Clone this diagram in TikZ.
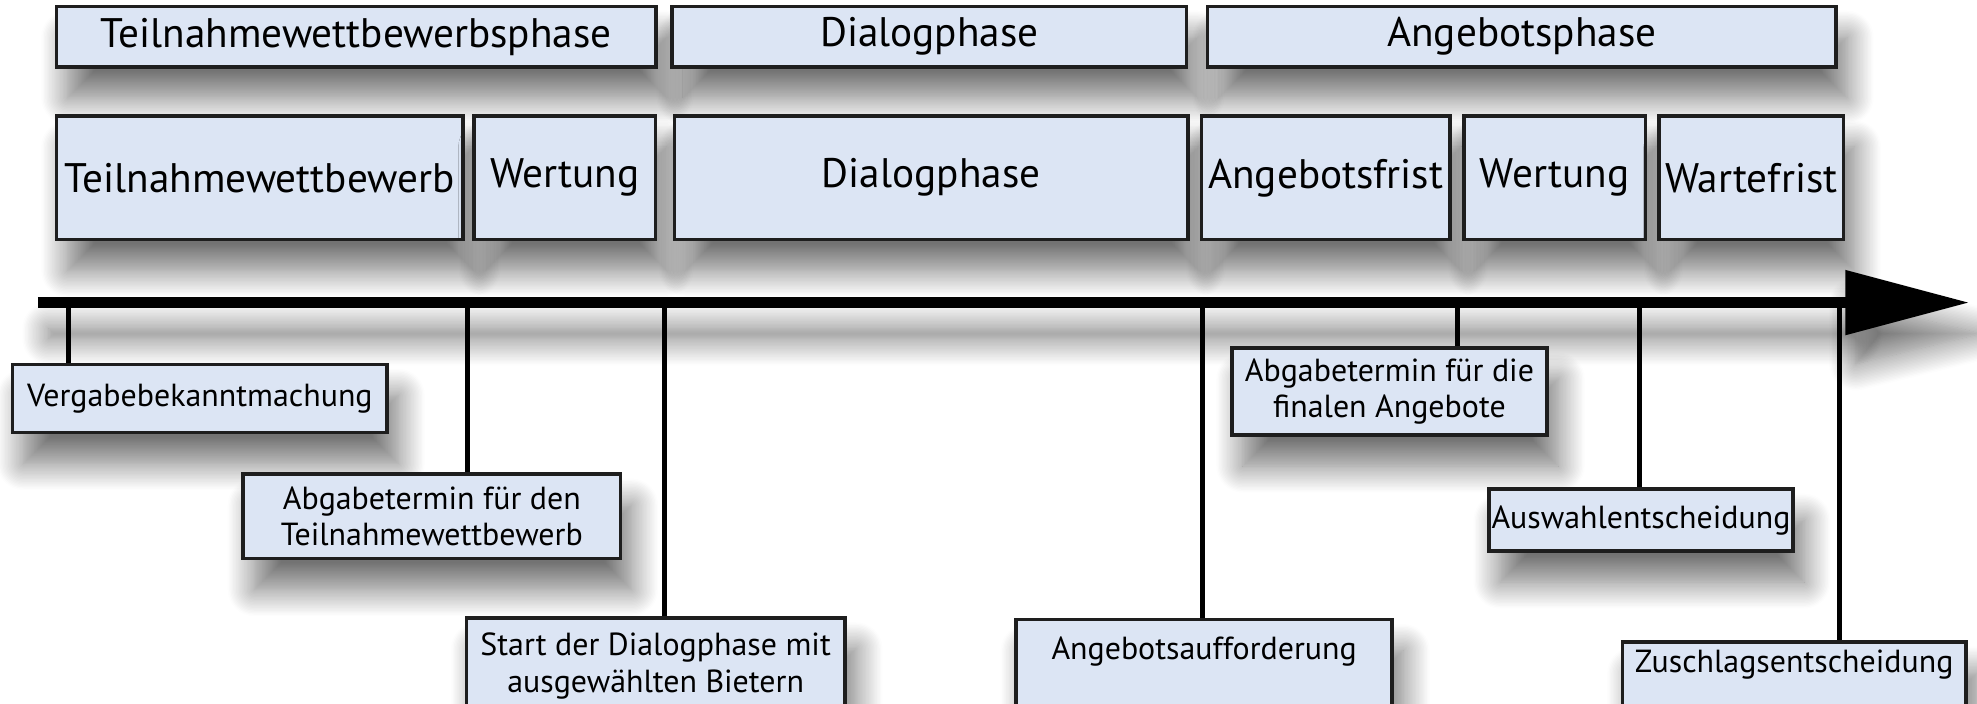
\documentclass[tikz,border=0pt]{standalone}
\usepackage{fontspec}
\setmainfont{PT Sans}
\usetikzlibrary{arrows.meta, shadows.blur}
\definecolor{boxc}{HTML}{DCE5F4}
\definecolor{edgec}{HTML}{1E1E1E}

\begin{document}
\begin{tikzpicture}[>=Triangle, x=0.01cm, y=-0.01cm,
      sh/.style={blur shadow={shadow xshift=2.5pt, shadow yshift=-7pt,
                  shadow blur radius=6pt, shadow blur steps=20, shadow opacity=55}},
      phase/.style={draw=edgec, fill=boxc, line width=0.8pt, sh, inner sep=0pt,
                  font=\fontsize{9.3}{11}\selectfont},
      evt/.style={draw=edgec, fill=boxc, line width=0.8pt, sh, inner sep=0pt,
                  align=center, font=\fontsize{7.2}{8.3}\selectfont},
      tick/.style={line width=1.1pt}]
    \useasboundingbox (0,0) rectangle (1568,558);
    % phases (top row)
    \node[phase, minimum width=4.75cm, minimum height=0.48cm] (P1) at (282.5,29) {Teilnahmewettbewerbsphase};
    \node[phase, minimum width=4.08cm, minimum height=0.48cm] (P2) at (737,29) {Dialogphase};
    \node[phase, minimum width=4.98cm, minimum height=0.48cm] (P3) at (1207,29) {Angebotsphase};
    % steps (second row)
    \node[phase, minimum width=3.22cm, minimum height=0.98cm] (S1) at (206,141) {Teilnahmewettbewerb};
    \node[phase, minimum width=1.44cm, minimum height=0.98cm] (S2) at (448,141) {Wertung};
    \node[phase, minimum width=4.07cm, minimum height=0.98cm] (S3) at (738.5,141) {Dialogphase};
    \node[phase, minimum width=1.97cm, minimum height=0.98cm] (S4) at (1051.5,141) {Angebotsfrist};
    \node[phase, minimum width=1.44cm, minimum height=0.98cm] (S5) at (1233,141) {Wertung};
    \node[phase, minimum width=1.46cm, minimum height=0.98cm] (S6) at (1389,141) {Wartefrist};
    % time axis
    \coordinate (L) at (30,240);
    \coordinate (R) at (1562,240);
    \path[sh] (30,236) rectangle (1463,244);
    \path[sh] (1463,216) -- (1562,240) -- (1463,264) -- cycle;
    \draw[line width=2.6pt, -{Triangle[length=28pt, width=14pt, fill=black]}] (L) -- (R);
    % events
    \node[evt, minimum width=2.97cm, minimum height=0.54cm] (E1) at (158.5,316) {Vergabebekanntmachung};
    \node[evt, minimum width=2.99cm, minimum height=0.67cm] (E2) at (342.5,409.5) {Abgabetermin für den\\Teilnahmewettbewerb};
    \node[evt, minimum width=3.00cm, minimum height=0.76cm] (E3) at (520,528) {Start der Dialogphase mit\\ausgewählten Bietern};
    \node[evt, minimum width=2.98cm, anchor=north, text height=0.32cm, text depth=0.5cm] (E4) at (955,490) {Angebotsaufforderung};
    \node[evt, minimum width=2.50cm, minimum height=0.69cm] (E5) at (1102,310.5) {Abgabetermin für die\\finalen Angebote};
    \node[evt, minimum width=2.41cm, minimum height=0.49cm] (E6) at (1301.5,412.5) {Auswahlentscheidung};
    \node[evt, minimum width=2.72cm, anchor=north, text height=0.24cm, text depth=0.4cm] (E7) at (1423,508) {Zuschlagsentscheidung};
    % ticks
    \foreach \n/\x in {1/54, 2/371, 3/527, 4/954, 5/1156, 6/1300, 7/1459}{
      \coordinate (t\n) at (\x,240);
      \draw[tick] (t\n) -- (t\n |- E\n.north);}
  \end{tikzpicture}
\end{document}
